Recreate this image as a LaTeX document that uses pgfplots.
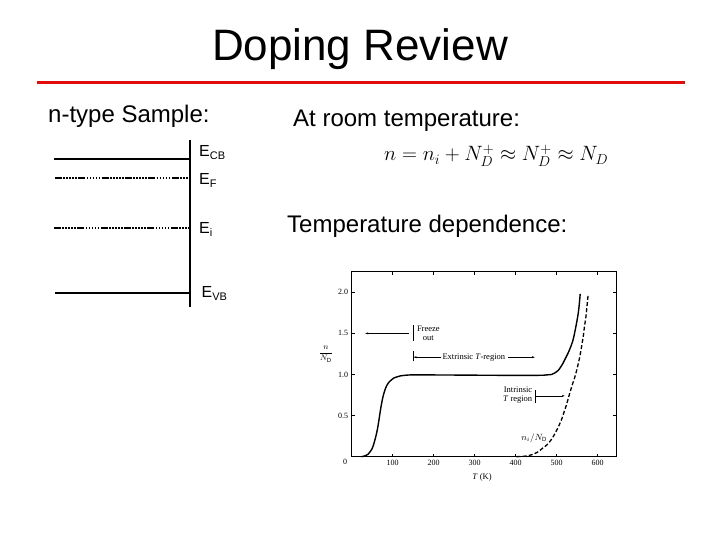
\documentclass[border=0pt]{standalone}
\usepackage{pgfplots}
\pgfplotsset{compat=1.18}
\usepackage{fontspec}
\setmainfont{Liberation Sans}
\newfontfamily\timesfont{Liberation Serif}
\usetikzlibrary{arrows.meta}
\definecolor{slidered}{RGB}{225,12,12}
\begin{document}
\begin{tikzpicture}
\useasboundingbox (0,0) rectangle (720pt,540pt);
\fill[white] (0,0) rectangle (720pt,540pt);
% ---------- slide overlay (pixel coordinates, y downwards) ----------
\begin{axis}[at={(0pt,0pt)}, anchor=south west, scale only axis,
  width=720pt, height=540pt, xmin=0, xmax=720, ymin=0, ymax=540,
  y dir=reverse, hide axis, clip=false]
\node[anchor=base, inner sep=0, font=\fontsize{44}{50}\selectfont] at (axis cs:360,61) {Doping Review};
\addplot[slidered, line width=3pt, line cap=butt] coordinates {(37,83) (685,83)};
\node[anchor=base west, inner sep=0, font=\fontsize{24}{28}\selectfont] at (axis cs:48,123) {n-type Sample:};
\node[anchor=base west, inner sep=0, font=\fontsize{24}{28}\selectfont] at (axis cs:293,127) {At room temperature:};
\node[anchor=base west, inner sep=0, font=\fontsize{24}{28}\selectfont] at (axis cs:287,233) {Temperature dependence:};
\node[anchor=base west, inner sep=0, font=\fontsize{21}{24}\selectfont] at (axis cs:384,161) {$n = n_i + N_D^+ \approx N_D^+ \approx N_D$};
% band diagram
\addplot[black, line width=2.3pt, line cap=butt] coordinates {(54,159.3) (189.5,159.3)};
\addplot[black, line width=1.7pt, line cap=butt, dash pattern=on 7pt off 1.3pt on 1.7pt off 1.3pt on 1.7pt off 1.3pt on 1.7pt off 1.3pt on 1.7pt off 1.3pt on 1.7pt off 1.3pt] coordinates {(55,177.7) (189,177.7)};
\addplot[black, line width=1.7pt, line cap=butt, dash pattern=on 7pt off 1.3pt on 1.7pt off 1.3pt on 1.7pt off 1.3pt on 1.7pt off 1.3pt on 1.7pt off 1.3pt on 1.7pt off 1.3pt] coordinates {(54,227.7) (189,227.7)};
\addplot[black, line width=1.7pt, line cap=butt] coordinates {(55,292.7) (189.5,292.7)};
\addplot[black, line width=1.7pt, line cap=butt] coordinates {(189.7,140) (189.7,307)};
\node[anchor=base west, inner sep=0, font=\fontsize{16}{18}\selectfont] at (axis cs:199,157) {E\raisebox{-2.5pt}{\fontsize{11}{12}\selectfont CB}};
\node[anchor=base west, inner sep=0, font=\fontsize{16}{18}\selectfont] at (axis cs:199,185) {E\raisebox{-2.5pt}{\fontsize{11}{12}\selectfont F}};
\node[anchor=base west, inner sep=0, font=\fontsize{16}{18}\selectfont] at (axis cs:199,234) {E\raisebox{-2.5pt}{\fontsize{11}{12}\selectfont i}};
\node[anchor=base west, inner sep=0, font=\fontsize{16}{18}\selectfont] at (axis cs:201.5,298) {E\raisebox{-2.5pt}{\fontsize{11}{12}\selectfont VB}};
\end{axis}
% ---------- n/N_D vs T plot ----------
\begin{axis}[at={(351.7pt,83.3pt)}, anchor=south west, scale only axis,
  width=264.3pt, height=185pt,
  xmin=0, xmax=645, ymin=0, ymax=2.25, clip=false,
  xtick={100,200,300,400,500,600}, xticklabels={100,200,300,400,500,600},
  ytick={0.5,1,1.5,2}, yticklabels={0.5,1.0,1.5,2.0},
  tick align=inside, major tick length=3pt,
  axis line style={line width=0.9pt},
  every tick/.style={black, line width=0.5pt},
  tick label style={font=\timesfont\fontsize{8}{9}\selectfont},
  /pgf/number format/assume math mode=true]
\addplot[black, line width=1.4pt, smooth, tension=0.4] coordinates {
(24,0) (32,0.01) (40,0.03) (45,0.06) (49,0.09) (53,0.14) (57,0.21) (60,0.27)
(63,0.34) (66,0.43) (69,0.53) (72,0.62) (75,0.70) (78,0.76) (81,0.81) (85,0.86)
(90,0.90) (96,0.93) (102,0.955) (110,0.97) (118,0.982) (130,0.99) (145,0.995)
(170,0.995) (250,0.993) (350,0.99) (460,0.99) (475,0.995) (488,1.00) (496,1.02)
(504,1.05) (510,1.09) (516,1.14) (522,1.20) (528,1.26) (534,1.33) (539,1.40)
(543,1.48) (547,1.58) (550,1.66) (553,1.75) (555.5,1.86) (557.6,1.98)};
\addplot[black, line width=1.3pt, dash pattern=on 4pt off 2.2pt, smooth, tension=0.4] coordinates {
(402,0) (420,0.005) (430,0.012) (443,0.03) (455,0.06) (465,0.10) (475.6,0.14)
(486,0.20) (496,0.28) (504,0.36) (512,0.45) (518,0.54) (524,0.63) (528,0.70)
(532,0.77) (538,0.87) (544.6,0.97) (550,1.07) (556.8,1.22) (561,1.34) (565,1.46)
(568,1.58) (571.5,1.70) (574,1.82) (577,1.97)};
% annotations
\node[align=center, inner sep=0, font=\timesfont\fontsize{8.5}{9}\selectfont] at (axis cs:187,1.5) {Freeze\\out};
\draw[line width=0.5pt] (axis cs:150,1.41) -- (axis cs:150,1.60);
\draw[line width=0.4pt, -{Stealth[length=3pt,width=2pt]}] (axis cs:140,1.5) -- (axis cs:33,1.5);
\draw[line width=0.5pt] (axis cs:150,1.16) -- (axis cs:150,1.28);
\draw[line width=0.4pt, -{Stealth[length=3pt,width=2pt]}] (axis cs:219,1.21) -- (axis cs:151,1.21);
\node[inner sep=0, font=\timesfont\fontsize{8.5}{9}\selectfont] at (axis cs:298,1.21) {Extrinsic \textit{T}-region};
\draw[line width=0.4pt, -{Stealth[length=3pt,width=2pt]}] (axis cs:382,1.21) -- (axis cs:447,1.21);
\node[align=right, anchor=east, inner sep=0, font=\timesfont\fontsize{8.5}{9}\selectfont] at (axis cs:441,0.745) {Intrinsic\\\textit{T} region};
\draw[line width=0.5pt] (axis cs:447,0.65) -- (axis cs:447,0.81);
\draw[line width=0.4pt, -{Stealth[length=3pt,width=2pt]}] (axis cs:447,0.74) -- (axis cs:520,0.74);
\node[inner sep=0, font=\fontsize{9}{10}\selectfont] at (axis cs:445,0.23) {$n_i/N_{\mathrm{D}}$};
\node[inner sep=0, font=\fontsize{8}{9}\selectfont] at (axis cs:-63,1.25) {$\displaystyle\frac{n}{N_{\mathrm{D}}}$};
\node[inner sep=0, font=\timesfont\fontsize{8.5}{9}\selectfont] at (axis cs:318,-0.25) {\textit{T} (K)};
\node[inner sep=0, font=\timesfont\fontsize{8}{9}\selectfont] at (axis cs:-16,-0.065) {0};
\end{axis}
\end{tikzpicture}
\end{document}
